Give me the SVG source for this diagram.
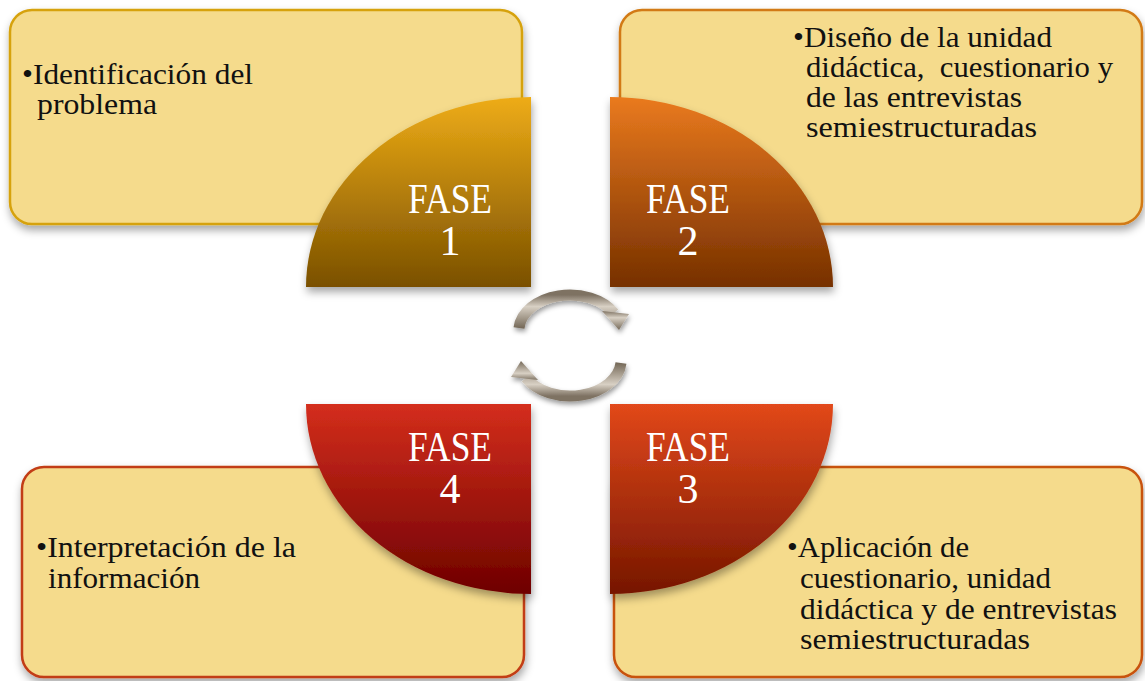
<svg xmlns="http://www.w3.org/2000/svg" width="1145" height="681" viewBox="0 0 1145 681">
<style>
.box{fill:#F5DB8C;stroke-width:2.5}
.txt{font-family:"Liberation Serif","Times New Roman",serif;font-size:30px;fill:#111;white-space:pre}
.fase{font-family:"Liberation Serif","Times New Roman",serif;font-size:42px;fill:#fff;text-anchor:middle}
.arc{fill:none;stroke:url(#ag);stroke-width:11}
.head{fill:url(#ag)}
</style>
<defs>
<filter id="sh" x="-10%" y="-10%" width="125%" height="130%">
<feDropShadow dx="1" dy="5" stdDeviation="4" flood-color="#000" flood-opacity="0.35"/>
</filter>
<filter id="sh2" x="-20%" y="-20%" width="140%" height="140%">
<feDropShadow dx="1" dy="3" stdDeviation="2.5" flood-color="#000" flood-opacity="0.4"/>
</filter>
<linearGradient id="g1" x1="0" y1="0" x2="0" y2="1"><stop offset="0" stop-color="#EEAC16"/><stop offset="1" stop-color="#7A5000"/></linearGradient>
<linearGradient id="g2" x1="0" y1="0" x2="0" y2="1"><stop offset="0" stop-color="#EA7A1E"/><stop offset="1" stop-color="#763000"/></linearGradient>
<linearGradient id="g3" x1="0" y1="0" x2="0" y2="1"><stop offset="0" stop-color="#E2481A"/><stop offset="1" stop-color="#761600"/></linearGradient>
<linearGradient id="g4" x1="0" y1="0" x2="0" y2="1"><stop offset="0" stop-color="#D42E1C"/><stop offset="1" stop-color="#6E0000"/></linearGradient>
<linearGradient id="ag" x1="0" y1="0" x2="0" y2="1"><stop offset="0" stop-color="#7E7262"/><stop offset="0.35" stop-color="#D8D0C4"/><stop offset="1" stop-color="#756958"/></linearGradient>
</defs>

<g id="box1"><rect class="box" x="10" y="10" width="512" height="214" rx="22" stroke="#D6A20E" filter="url(#sh)"/>
<text class="txt" x="22" y="84" textLength="231" lengthAdjust="spacingAndGlyphs">•Identificación del</text>
<text class="txt" x="37" y="114" textLength="120" lengthAdjust="spacingAndGlyphs">problema</text></g>

<g id="box2"><rect class="box" x="620" y="10" width="522" height="214" rx="22" stroke="#D27A14" filter="url(#sh)"/>
<text class="txt" x="793" y="47" textLength="259" lengthAdjust="spacingAndGlyphs">•Diseño de la unidad</text>
<text class="txt" x="806" y="77" textLength="307" lengthAdjust="spacingAndGlyphs" xml:space="preserve">didáctica,  cuestionario y</text>
<text class="txt" x="806" y="107" textLength="216" lengthAdjust="spacingAndGlyphs">de las entrevistas</text>
<text class="txt" x="806" y="137" textLength="231" lengthAdjust="spacingAndGlyphs">semiestructuradas</text></g>

<g id="box4"><rect class="box" x="22" y="467" width="502" height="210" rx="22" stroke="#C23C14" filter="url(#sh)"/>
<text class="txt" x="36" y="557" textLength="260" lengthAdjust="spacingAndGlyphs">•Interpretación de la</text>
<text class="txt" x="48" y="588" textLength="152" lengthAdjust="spacingAndGlyphs">información</text></g>

<g id="box3"><rect class="box" x="614" y="467" width="528" height="210" rx="22" stroke="#C8520F" filter="url(#sh)"/>
<text class="txt" x="787" y="557" textLength="182" lengthAdjust="spacingAndGlyphs">•Aplicación de</text>
<text class="txt" x="800" y="588" textLength="251" lengthAdjust="spacingAndGlyphs">cuestionario, unidad</text>
<text class="txt" x="800" y="619" textLength="317" lengthAdjust="spacingAndGlyphs">didáctica y de entrevistas</text>
<text class="txt" x="800" y="649" textLength="230" lengthAdjust="spacingAndGlyphs">semiestructuradas</text></g>

<g id="fase1"><path d="M531 287 L306 287 A225 190 0 0 1 531 97 Z" fill="url(#g1)" filter="url(#sh)"/>
<text class="fase" x="450" y="213" textLength="84" lengthAdjust="spacingAndGlyphs">FASE</text>
<text class="fase" x="450" y="255">1</text></g>

<g id="fase2"><path d="M610 287 L833 287 A223 190 0 0 0 610 97 Z" fill="url(#g2)" filter="url(#sh)"/>
<text class="fase" x="688" y="213" textLength="84" lengthAdjust="spacingAndGlyphs">FASE</text>
<text class="fase" x="688" y="255">2</text></g>

<g id="fase3"><path d="M610 404 L833 404 A223 190 0 0 1 610 594 Z" fill="url(#g3)" filter="url(#sh)"/>
<text class="fase" x="688" y="461" textLength="84" lengthAdjust="spacingAndGlyphs">FASE</text>
<text class="fase" x="688" y="503">3</text></g>

<g id="fase4"><path d="M531 404 L306 404 A225 190 0 0 0 531 594 Z" fill="url(#g4)" filter="url(#sh)"/>
<text class="fase" x="450" y="461" textLength="84" lengthAdjust="spacingAndGlyphs">FASE</text>
<text class="fase" x="450" y="503">4</text></g>

<g id="connectors" filter="url(#sh2)">
<g id="arrow-top">
<path class="arc" d="M519 328 A51 36 0 0 1 614 313"/>
<polygon class="head" points="602,311 629,314 619,330"/>
</g>
<g id="arrow-bottom" transform="rotate(180 570 345.5)">
<path class="arc" d="M519 328 A51 36 0 0 1 614 313"/>
<polygon class="head" points="602,311 629,314 619,330"/>
</g>
</g>
</svg>
